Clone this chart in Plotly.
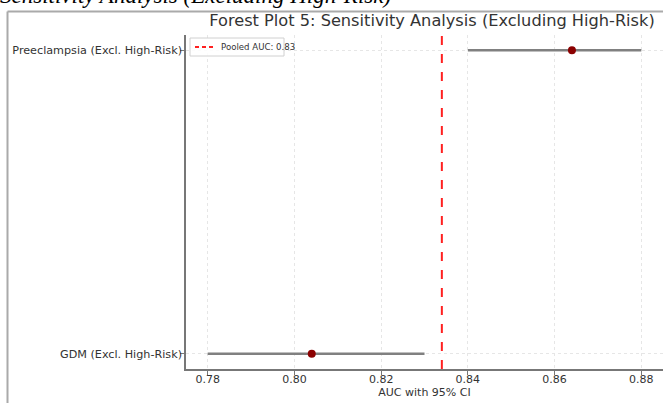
import plotly.graph_objects as go

# Data
outcomes = ["GDM (Excl. High-Risk)", "Preeclampsia (Excl. High-Risk)"]
auc = [0.804, 0.864]
ci_low = [0.78, 0.84]
ci_high = [0.83, 0.88]
pooled_auc = 0.834
pooled_label = "Pooled AUC: 0.83"
x_ticks = [0.78, 0.80, 0.82, 0.84, 0.86, 0.88]

L, R, T, B = 186, 0, 35, 34
W, H = 663, 403
pw = W - L - R
ph = H - T - B

def px_to_paper_x(px):
    return (px - L) / pw

def px_to_paper_y(py):
    return (H - B - py) / ph

fig = go.Figure()

ypos = list(range(len(outcomes)))
for i in ypos:
    fig.add_trace(go.Scatter(
        x=[ci_low[i], ci_high[i]], y=[i, i], mode="lines",
        line=dict(color="#808080", width=2.5), showlegend=False, hoverinfo="skip"))
fig.add_trace(go.Scatter(
    x=auc, y=ypos, mode="markers",
    marker=dict(color="#8b0000", size=8), showlegend=False))

# pooled line
fig.add_trace(go.Scatter(
    x=[pooled_auc, pooled_auc], y=[-0.05, 1.05], mode="lines",
    line=dict(color="#ff2020", width=2, dash="dash"),
    name=pooled_label, showlegend=False))

# custom compact legend (box, sample line, label)
lg_x0, lg_x1, lg_y0, lg_y1 = 190, 284, 38, 56

fig.update_layout(
    width=W, height=H,
    margin=dict(l=L, r=R, t=T, b=B, pad=0),
    paper_bgcolor="white", plot_bgcolor="white",
    font=dict(family="DejaVu Sans", color="#333333", size=11),
    showlegend=False,
    title=dict(text="Forest Plot 5: Sensitivity Analysis (Excluding High-Risk)",
               x=px_to_paper_x(432), xref="paper", xanchor="center",
               y=1 - 20 / H, yanchor="middle",
               font=dict(size=16.2, color="#333333")),
    xaxis=dict(range=[0.775, 0.885], tickvals=x_ticks,
               ticktext=[f"{v:.2f}" for v in x_ticks],
               showgrid=True, gridcolor="#e6e6e6", griddash="dot", gridwidth=1,
               showline=True, linecolor="#777777", linewidth=1.5,
               ticks="outside", ticklen=4, tickcolor="#777777",
               ticklabelstandoff=-5,
               tickfont=dict(size=11, color="#333333"), zeroline=False,
               title=dict(text="AUC with 95% CI", font=dict(size=11, color="#333333"), standoff=0)),
    yaxis=dict(range=[-0.05, 1.05], tickvals=ypos, ticktext=outcomes,
               showgrid=True, gridcolor="#e6e6e6", griddash="dot", gridwidth=1,
               showline=True, linecolor="#777777", linewidth=1.5,
               ticks="outside", ticklen=4, tickcolor="#777777",
               ticklabelstandoff=-4,
               tickfont=dict(size=11.2, color="#333333"), zeroline=False),
    shapes=[
        dict(type="line", xref="paper", yref="paper",
             x0=px_to_paper_x(7.5), x1=px_to_paper_x(700),
             y0=px_to_paper_y(11.5), y1=px_to_paper_y(11.5),
             line=dict(color="#aaaaaa", width=2)),
        dict(type="line", xref="paper", yref="paper",
             x0=px_to_paper_x(7.5), x1=px_to_paper_x(7.5),
             y0=px_to_paper_y(11.5), y1=px_to_paper_y(450),
             line=dict(color="#aaaaaa", width=2)),
        dict(type="rect", xref="paper", yref="paper",
             x0=px_to_paper_x(lg_x0), x1=px_to_paper_x(lg_x1),
             y0=px_to_paper_y(lg_y1), y1=px_to_paper_y(lg_y0),
             line=dict(color="#d0d0d0", width=1), fillcolor="rgba(255,255,255,0.85)",
             layer="above"),
        dict(type="line", xref="paper", yref="paper",
             x0=px_to_paper_x(195), x1=px_to_paper_x(213),
             y0=px_to_paper_y(47), y1=px_to_paper_y(47),
             line=dict(color="#ff2020", width=1.8, dash="4px,3px"), layer="above"),
    ],
    annotations=[
        dict(text="<i>Sensitivity Analysis (Excluding High-Risk)</i>",
             xref="paper", yref="paper",
             x=px_to_paper_x(-2), y=px_to_paper_y(10.5), xanchor="left", yanchor="bottom",
             showarrow=False,
             font=dict(family="Liberation Serif", size=23, color="#000000")),
        dict(text=pooled_label, xref="paper", yref="paper",
             x=px_to_paper_x(219), y=px_to_paper_y(47), xanchor="left", yanchor="middle",
             showarrow=False, font=dict(size=8.6, color="#333333")),
    ],
)

fig.write_html("out.html", config={"displayModeBar": False},
               post_script="document.body.style.margin='0';document.body.style.overflow='hidden';")
